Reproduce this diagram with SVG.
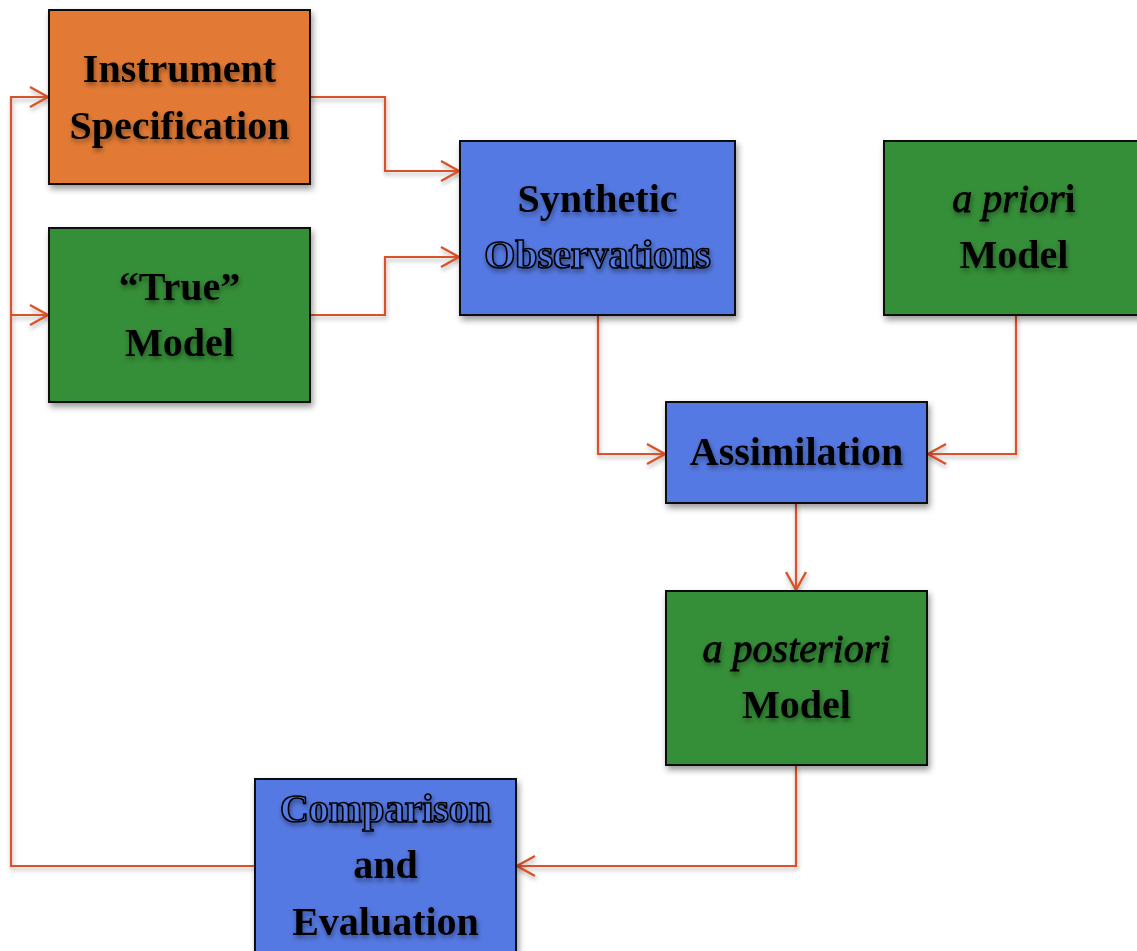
<svg xmlns="http://www.w3.org/2000/svg" width="1137" height="951" viewBox="0 0 1137 951">
<style>
.box{stroke:#111;stroke-width:2;filter:url(#sh)}
.orange{fill:#E27A36}
.green{fill:#368E38}
.blue{fill:#5479E2}
.t{font-family:"Liberation Serif",serif;font-size:40px;font-weight:bold;fill:#000;text-anchor:middle;filter:url(#tsh)}
.hollow{fill:#5479E2;stroke:#000;stroke-width:1.6}
.it{font-style:italic;font-weight:normal;stroke:#000;stroke-width:0.8}
.c{fill:none;stroke:#D9532A;stroke-width:2.2}
</style>
<defs>
<filter id="sh" x="-10%" y="-10%" width="125%" height="125%">
<feDropShadow dx="2" dy="4" stdDeviation="3" flood-color="#000" flood-opacity="0.4"/>
</filter>
<filter id="tsh" x="-10%" y="-20%" width="120%" height="150%">
<feDropShadow dx="1" dy="3" stdDeviation="2.5" flood-color="#000" flood-opacity="0.4"/>
</filter>
<filter id="lsh" filterUnits="userSpaceOnUse" x="0" y="0" width="1137" height="951">
<feDropShadow dx="1" dy="3" stdDeviation="2" flood-color="#000" flood-opacity="0.3"/>
</filter>
<marker id="ah" viewBox="-20 -12 22 24" refX="0" refY="0" markerWidth="22" markerHeight="24" markerUnits="userSpaceOnUse" orient="auto" overflow="visible">
<path d="M-18 -10 L0 0 L-18 10" fill="none" stroke="#D9532A" stroke-width="2.4"/>
</marker>
</defs>
<rect width="1137" height="951" fill="#fff"/>
<g id="connectors" filter="url(#lsh)">
<path class="c" d="M310 97 H385 V171 H459" marker-end="url(#ah)"/>
<path class="c" d="M310 315 H385 V257 H459" marker-end="url(#ah)"/>
<path class="c" d="M598 315 V454 H665" marker-end="url(#ah)"/>
<path class="c" d="M1016 315 V454 H928" marker-end="url(#ah)"/>
<path class="c" d="M796 503 V590" marker-end="url(#ah)"/>
<path class="c" d="M796 765 V866 H517" marker-end="url(#ah)"/>
<path class="c" d="M255 866 H11 V97 H48" marker-end="url(#ah)"/>
<path class="c" d="M11 315 H48" marker-end="url(#ah)"/>
</g>
<g id="instrument">
<rect class="box orange" x="49" y="10" width="261" height="174"/>
<text class="t" x="179.5" y="82">Instrument</text>
<text class="t" x="179.5" y="139">Specification</text>
</g>
<g id="true-model">
<rect class="box green" x="49" y="228" width="261" height="174"/>
<text class="t" x="179.5" y="300">“True”</text>
<text class="t" x="179.5" y="356">Model</text>
</g>
<g id="synthetic">
<rect class="box blue" x="460" y="141" width="275" height="174"/>
<text class="t" x="597.5" y="212">Synthetic</text>
<text class="t hollow" x="597.5" y="268">Observations</text>
</g>
<g id="apriori">
<rect class="box green" x="884" y="141" width="275" height="174"/>
<text class="t" x="1014" y="212"><tspan class="it">a prior</tspan>i</text>
<text class="t" x="1014" y="268">Model</text>
</g>
<g id="assimilation">
<rect class="box blue" x="666" y="402" width="261" height="101"/>
<text class="t" x="796.5" y="465">Assimilation</text>
</g>
<g id="aposteriori">
<rect class="box green" x="666" y="591" width="261" height="174"/>
<text class="t it" x="796.5" y="662">a posteriori</text>
<text class="t" x="796.5" y="718">Model</text>
</g>
<g id="comparison">
<rect class="box blue" x="255" y="779" width="261" height="180"/>
<text class="t hollow" x="385.5" y="822">Comparison</text>
<text class="t" x="385.5" y="878">and</text>
<text class="t" x="385.5" y="935">Evaluation</text>
</g>
</svg>
